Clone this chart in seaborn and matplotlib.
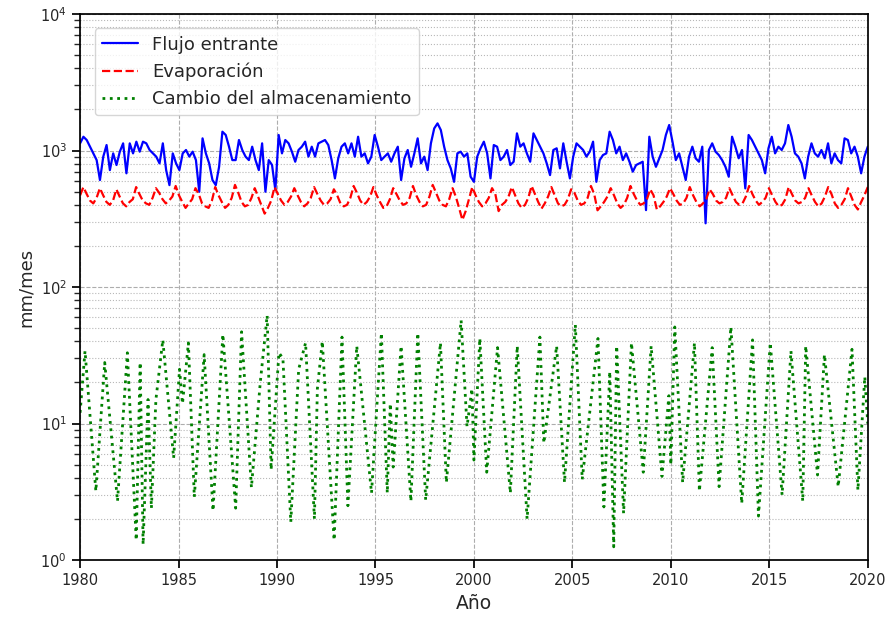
"""
Monthly water balance terms (1980-2020): inflow, evaporation and storage change.
Values read by eye from the reference figure (log scale).
"""

import matplotlib
matplotlib.use("Agg")
import matplotlib.pyplot as plt
import numpy as np
import pandas as pd
import seaborn as sns

# Flujo entrante, mm/mes, roughly every two months 1980-2020
FLOW = [
    1129, 1262, 1194, 1067, 953, 851, 608, 902, 1097, 719,
    953, 783, 981, 1129, 681, 1129, 953, 1161, 981, 1161,
    1129, 1009, 953, 902, 805, 1129, 719, 558, 953, 805,
    719, 953, 1009, 902, 981, 851, 499, 1228, 953, 805,
    608, 558, 760, 1374, 1300, 1067, 851, 851, 1194, 1009,
    902, 851, 1067, 851, 719, 1129, 499, 851, 783, 513,
    1300, 953, 1194, 1129, 981, 828, 1009, 1067, 1161, 902,
    1067, 902, 1129, 1161, 1194, 1097, 851, 625, 877, 1067,
    1129, 953, 1129, 902, 1262, 902, 953, 805, 902, 1300,
    1067, 851, 902, 953, 828, 953, 1067, 608, 877, 1009,
    760, 953, 1228, 805, 902, 719, 1129, 1452, 1581, 1413,
    1067, 851, 740, 590, 953, 981, 902, 953, 643,
    590, 902, 1038, 1161, 953, 625, 1097, 1067, 851, 902,
    1009, 783, 828, 1336, 1067, 1129, 953, 828, 1336, 1194,
    1067, 953, 805, 661, 1009, 1038, 740, 1129, 828, 625,
    902, 1129, 1067, 1009, 902, 981, 1161, 590, 851, 927,
    953, 1374, 1194, 953, 1067, 851, 953, 828, 700, 783,
    805, 828, 366, 1262, 902, 760, 877, 1009, 1300, 1538,
    1161, 851, 953, 760, 608, 902, 1067, 877, 828, 1067,
    293, 1009, 1129, 981, 927, 851, 760, 643, 1262, 1067,
    877, 1009, 528, 1300, 1194, 1067, 953, 851, 681, 1038,
    1262, 953, 1067, 1009, 1129, 1538, 1262, 953, 902, 805,
    625, 902, 1129, 953, 902, 1009, 877, 1129, 805, 953,
    851, 805, 1228, 1194, 953, 1067, 902, 681, 902, 1067,
]

# Evaporación, mm/mes, six readings per year
EVAP = [
    470, 540, 480, 430, 410, 450,
    530, 470, 420, 400, 430, 520,
    460, 410, 390, 420, 440, 540,
    480, 430, 410, 400, 450, 530,
    490, 440, 410, 430, 460, 550,
    470, 420, 380, 410, 440, 530,
    480, 410, 390, 380, 430, 540,
    470, 420, 380, 400, 450, 560,
    490, 420, 390, 400, 450, 530,
    460, 400, 345, 380, 430, 540,
    480, 430, 400, 420, 460, 530,
    470, 420, 390, 410, 450, 540,
    480, 430, 400, 410, 440, 520,
    470, 410, 390, 400, 450, 550,
    490, 430, 400, 420, 460, 540,
    470, 420, 380, 390, 440, 530,
    480, 430, 400, 410, 450, 550,
    470, 420, 390, 400, 460, 560,
    490, 430, 400, 390, 440, 530,
    460, 380, 310, 360, 440, 540,
    470, 420, 390, 410, 450, 530,
    480, 360, 400, 420, 460, 540,
    470, 410, 380, 400, 450, 550,
    480, 420, 375, 410, 460, 540,
    470, 410, 390, 400, 440, 520,
    490, 430, 400, 410, 450, 550,
    480, 365, 390, 420, 460, 530,
    470, 410, 380, 400, 450, 550,
    480, 430, 400, 410, 440, 520,
    470, 370, 390, 420, 460, 530,
    480, 430, 400, 410, 450, 540,
    470, 420, 390, 410, 440, 520,
    480, 430, 410, 420, 450, 530,
    470, 420, 400, 410, 460, 550,
    480, 430, 400, 420, 450, 530,
    470, 420, 390, 400, 440, 540,
    480, 430, 410, 420, 450, 530,
    470, 420, 390, 410, 460, 540,
    480, 410, 380, 400, 440, 530,
    460, 400, 370, 420, 470, 540,
]

# Cambio del almacenamiento: turning points (year, mm/mes)
STORAGE_YEARS = [
    1980.0, 1980.25, 1980.8, 1981.25, 1981.9, 1982.4, 1982.85, 1983.05,
    1983.2, 1983.45, 1983.62, 1983.85, 1984.2, 1984.75, 1985.05, 1985.2,
    1985.5, 1985.8, 1986.3, 1986.75, 1987.25, 1987.9, 1988.2, 1988.7,
    1989.15, 1989.5, 1989.7, 1990.1, 1990.3, 1990.7, 1991.1, 1991.45,
    1991.9, 1992.05, 1992.3, 1992.9, 1993.3, 1993.6, 1994.05, 1994.8,
    1995.3, 1995.6, 1995.75, 1995.9, 1996.3, 1996.8, 1997.15, 1997.55,
    1998.3, 1998.6, 1999.35, 1999.65, 1999.9, 2000.0, 2000.3, 2000.65,
    2001.2, 2001.85, 2002.2, 2002.7, 2003.35, 2003.55, 2004.2, 2004.6,
    2005.15, 2005.5, 2006.3, 2006.6, 2006.9, 2007.1, 2007.25, 2007.6,
    2008.0, 2008.6, 2009.0, 2009.55, 2009.9, 2010.0, 2010.2, 2010.6,
    2011.2, 2011.45, 2012.1, 2012.45, 2013.05, 2013.6, 2014.15, 2014.45,
    2015.05, 2015.65, 2016.1, 2016.7, 2016.85, 2017.45, 2017.8, 2018.5,
    2019.2, 2019.5, 2019.85, 2020.0,
]
STORAGE = [
    12, 34, 3.2, 28, 2.7, 33, 1.4, 28,
    1.3, 15, 2.4, 15, 41, 5.6, 25, 14,
    39, 2.9, 32, 2.3, 45, 2.4, 47, 3.4,
    20, 62, 4.6, 33, 30, 1.9, 25, 39,
    2.0, 18, 40, 1.4, 43, 2.5, 37, 3.1,
    46, 3.1, 14, 4.8, 37, 2.7, 46, 2.75,
    39, 3.7, 57, 9.5, 18, 5.4, 42, 4.4,
    36, 3.1, 37, 2.0, 43, 7.2, 37, 3.7,
    53, 3.9, 42, 2.45, 24, 1.25, 37, 2.2,
    39, 4.4, 37, 4.1, 16, 5.0, 51, 3.7,
    39, 3.2, 36, 3.45, 51, 2.6, 41, 2.1,
    39, 3.0, 34, 2.7, 37, 4.2, 32, 3.45,
    35, 3.25, 22, 10,
]

LABELS = ["Flujo entrante", "Evaporación", "Cambio del almacenamiento"]

sns.set_theme(style="ticks")
plt.rcParams["font.family"] = ["DejaVu Sans"]

flow_df = pd.DataFrame({"year": np.linspace(1980, 2020, len(FLOW)), "value": FLOW})
evap_df = pd.DataFrame({"year": np.linspace(1980, 2020, len(EVAP)), "value": EVAP})
stor_df = pd.DataFrame({"year": STORAGE_YEARS, "value": STORAGE})

fig, ax = plt.subplots(figsize=(8.9, 6.23), dpi=100)
fig.subplots_adjust(left=0.09, right=0.975, bottom=0.101, top=0.9775)

sns.lineplot(data=flow_df, x="year", y="value", color="blue", lw=1.6,
             label=LABELS[0], ax=ax)
sns.lineplot(data=evap_df, x="year", y="value", color="red", lw=1.6,
             linestyle="--", label=LABELS[1], ax=ax)
sns.lineplot(data=stor_df, x="year", y="value", color="green", lw=2,
             linestyle=":", label=LABELS[2], ax=ax)

ax.set_yscale("log")
ax.set_ylim(1, 1e4)
ax.set_xlim(1980, 2020)
ax.set_xticks(range(1980, 2021, 5))
ax.grid(which="major", linestyle="--", color="0.68", lw=0.8)
ax.grid(which="minor", axis="y", linestyle=":", color="0.72", lw=0.8)
ax.set_xlabel("Año", fontsize=13.5)
ax.set_ylabel("mm/mes", fontsize=13)
ax.tick_params(labelsize=10.5, color="black")
for spine in ax.spines.values():
    spine.set_color("black")
ax.legend(loc="upper left", fontsize=13, borderaxespad=0.8)

fig.savefig("out.png", dpi=100)
